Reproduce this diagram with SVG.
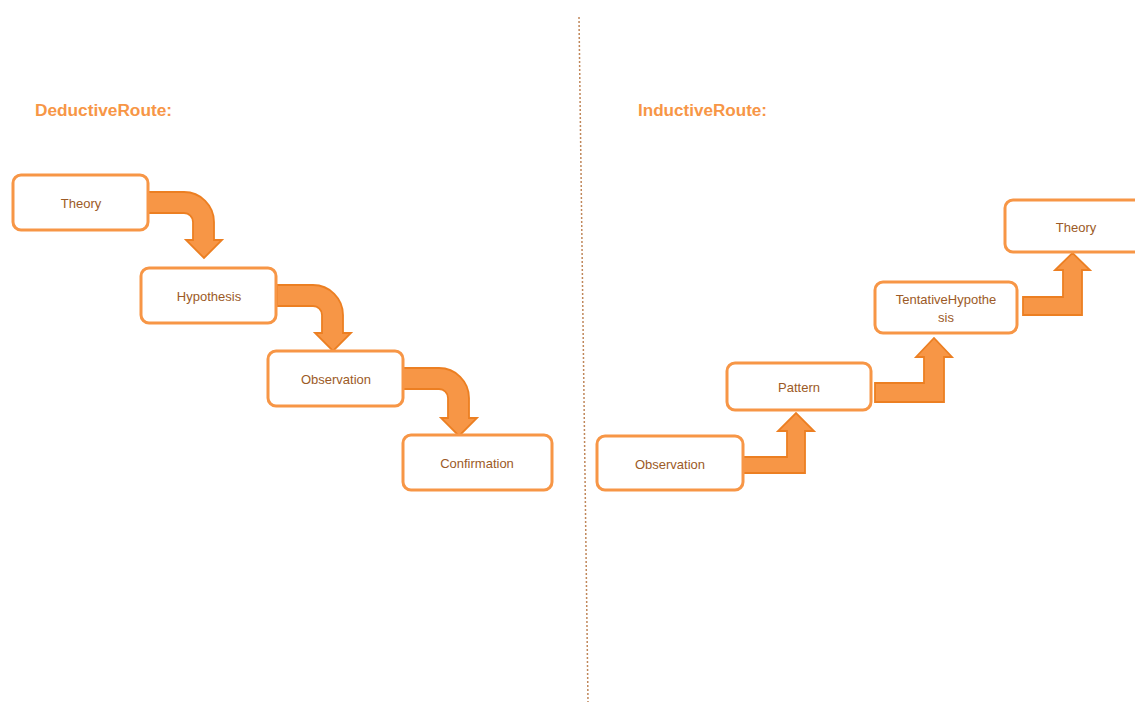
<svg xmlns="http://www.w3.org/2000/svg" width="1135" height="702" viewBox="0 0 1135 702">
<style>
.box{fill:#ffffff;stroke:#f79646;stroke-width:3}
.lbl{font-family:"Liberation Sans",Arial,sans-serif;font-size:13px;fill:#9c5a26;text-anchor:middle;dominant-baseline:central}
.title{font-family:"Liberation Sans",Arial,sans-serif;font-size:16px;font-weight:bold;fill:#f79646}
.arrow{fill:#f79646;stroke:#ec7f22;stroke-width:1.8;stroke-linejoin:miter}
</style>
<rect width="1135" height="702" fill="#ffffff"/>
<line x1="579" y1="17" x2="588" y2="702" stroke="#c0875a" stroke-width="1.5" stroke-dasharray="2,2"/>
<text class="title" x="35" y="116" textLength="137" lengthAdjust="spacingAndGlyphs">DeductiveRoute:</text>
<text class="title" x="638" y="116" textLength="129" lengthAdjust="spacingAndGlyphs">InductiveRoute:</text>
<g id="connectors">
<path class="arrow" d="M148,192 H184 A30 30 0 0 1 214,222 V240 H222 L204,258 L186,240 H193 V222 A9 9 0 0 0 184,213 H148 Z"/>
<path class="arrow" d="M277,285 H313 A30 30 0 0 1 343,315 V333 H351 L333,351 L315,333 H322 V315 A9 9 0 0 0 313,306 H277 Z"/>
<path class="arrow" d="M403,368 H439 A30 30 0 0 1 469,398 V418 H477 L459,436 L441,418 H448 V398 A9 9 0 0 0 439,389 H403 Z"/>
<path class="arrow" d="M743,457 H787 V431 H778 L796,413 L814,431 H805 V473 H743 Z"/>
<path class="arrow" d="M875,383 H924 V357 H916 L934,338 L952,357 H944 V402 H875 Z"/>
<path class="arrow" d="M1023,297 H1063 V270 H1055 L1072.5,253 L1090,270 H1082 V315 H1023 Z"/>
</g>
<g id="d-theory"><rect class="box" x="13" y="175" width="135" height="55" rx="8"/><text class="lbl" x="81" y="203">Theory</text></g>
<g id="d-hypothesis"><rect class="box" x="141" y="268" width="135" height="55" rx="8"/><text class="lbl" x="209" y="296">Hypothesis</text></g>
<g id="d-observation"><rect class="box" x="268" y="351" width="135" height="55" rx="8"/><text class="lbl" x="336" y="379">Observation</text></g>
<g id="d-confirmation"><rect class="box" x="403" y="435" width="149" height="55" rx="8"/><text class="lbl" x="477" y="463">Confirmation</text></g>
<g id="i-observation"><rect class="box" x="597" y="436" width="146" height="54" rx="8"/><text class="lbl" x="670" y="464">Observation</text></g>
<g id="i-pattern"><rect class="box" x="727" y="363" width="144" height="47" rx="8"/><text class="lbl" x="799" y="387">Pattern</text></g>
<g id="i-tentative"><rect class="box" x="875" y="282" width="142" height="51" rx="8"/><text class="lbl" x="946" y="299">TentativeHypothe</text><text class="lbl" x="946" y="317">sis</text></g>
<g id="i-theory"><rect class="box" x="1005" y="200" width="142" height="52" rx="8"/><text class="lbl" x="1076" y="227">Theory</text></g>
</svg>
